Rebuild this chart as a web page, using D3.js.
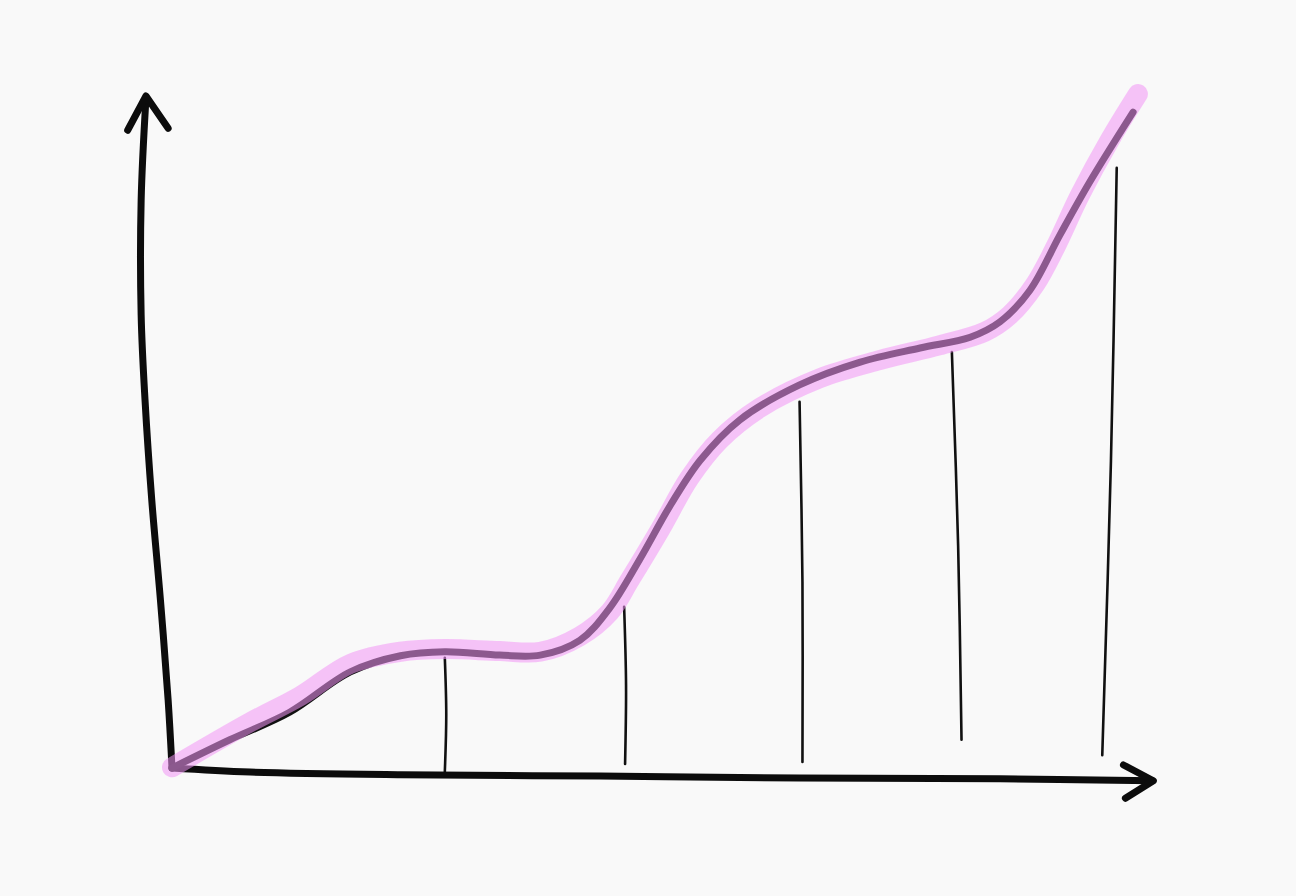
<!DOCTYPE html>
<html>
<head>
<meta charset="utf-8">
<script src="https://cdn.jsdelivr.net/npm/d3@7"></script>
<style>
  html, body { margin: 0; padding: 0; background: #f9f9f9; }
  svg { display: block; }
</style>
</head>
<body>
<svg id="chart" width="1296" height="896"></svg>
<script>
// Hand-drawn growth curve (data in arbitrary 0–100 units)
const curveX = [0, 6.0, 12.2, 18.5, 23.7, 28.3, 34.0, 38.2, 42.3, 45.4, 48.5, 51.7, 54.8, 58.9, 65.1, 71.4, 77.6, 82.8, 85.9, 89.0, 92.1, 95.2, 99.7];
const curveY = [0, 4.2, 8.3, 14.3, 16.7, 17.3, 16.8, 16.8, 19.0, 23.8, 31.0, 39.1, 45.8, 51.8, 57.0, 60.4, 62.5, 64.1, 66.4, 71.1, 79.3, 87.2, 97.6];

// Highlighter stroke over the curve
const highlightX = [0, 8.1, 13.3, 18.5, 23.7, 28.3, 34.0, 38.2, 42.3, 45.4, 47.5, 50.6, 53.7, 56.8, 61.0, 67.2, 73.4, 79.6, 84.3, 86.9, 89.5, 91.6, 94.2, 97.3, 100.2];
const highlightY = [0.1, 6.8, 10.7, 15.5, 17.3, 17.7, 17.4, 17.3, 19.6, 23.2, 28.0, 35.4, 43.2, 48.8, 53.6, 58.0, 60.7, 62.9, 64.9, 67.4, 71.9, 77.4, 85.3, 93.5, 100.3];

// Axes (hand-drawn)
const yAxisX = [0, -0.4, -1.2, -2.1, -2.8, -3.2, -3.2, -2.7];
const yAxisY = [0, 10.1, 25.0, 39.9, 54.8, 67.4, 84.5, 99.7];
const yArrowX = [-4.6, -2.7, -0.4];
const yArrowY = [94.9, 100.0, 95.2];
const xAxisX = [0, 8.1, 23.7, 44.4, 65.1, 85.9, 101.7];
const xAxisY = [0, -0.6, -1.0, -1.2, -1.5, -1.6, -1.9];
const xArrowX = [98.7, 101.8, 98.9];
const xArrowY = [0.45, -1.9, -4.5];

// Drop lines from the curve to the x axis
const dropTopX = [28.3, 46.9, 65.1, 80.9, 98.0];
const dropTopY = [16.4, 24.0, 54.5, 61.9, 89.3];
const dropBottomX = [28.3, 47.0, 65.4, 81.9, 96.5];
const dropBottomY = [-0.6, 0.6, 0.9, 4.2, 1.9];

const svg = d3.select("#chart");
const x = d3.scaleLinear().domain([0, 100]).range([172, 1136]);
const y = d3.scaleLinear().domain([0, 100]).range([768, 96]);

const zip = (xs, ys) => xs.map((v, i) => [v, ys[i]]);
const smooth = d3.line().x(d => x(d[0])).y(d => y(d[1])).curve(d3.curveCatmullRom.alpha(0.5));
const straight = d3.line().x(d => x(d[0])).y(d => y(d[1]));

// drop lines
const drops = dropTopX.map((v, i) => [[v, dropTopY[i]], [(v + dropBottomX[i]) / 2 + 0.15, (dropTopY[i] + dropBottomY[i]) / 2], [dropBottomX[i], dropBottomY[i]]]);
svg.append("g").selectAll("path").data(drops).join("path")
  .attr("d", smooth)
  .attr("fill", "none")
  .attr("stroke", "#111")
  .attr("stroke-width", 2.6)
  .attr("stroke-linecap", "round");

// axes
const axisG = svg.append("g")
  .attr("fill", "none")
  .attr("stroke", "#0c0c0c")
  .attr("stroke-width", 7)
  .attr("stroke-linecap", "round")
  .attr("stroke-linejoin", "round");
axisG.append("path").attr("d", smooth(zip(yAxisX, yAxisY)));
axisG.append("path").attr("d", straight(zip(yArrowX, yArrowY)));
axisG.append("path").attr("d", smooth(zip(xAxisX, xAxisY)));
axisG.append("path").attr("d", straight(zip(xArrowX, xArrowY)));

// main curve
svg.append("path")
  .attr("d", smooth(zip(curveX, curveY)))
  .attr("fill", "none")
  .attr("stroke", "#111")
  .attr("stroke-width", 7)
  .attr("stroke-linecap", "round")
  .attr("stroke-linejoin", "round");

// highlighter
svg.append("path")
  .attr("d", smooth(zip(highlightX, highlightY)))
  .attr("fill", "none")
  .attr("stroke", "rgb(242,150,246)")
  .attr("stroke-opacity", 0.55)
  .attr("stroke-width", 20)
  .attr("stroke-linecap", "round")
  .attr("stroke-linejoin", "round");
</script>
</body>
</html>
